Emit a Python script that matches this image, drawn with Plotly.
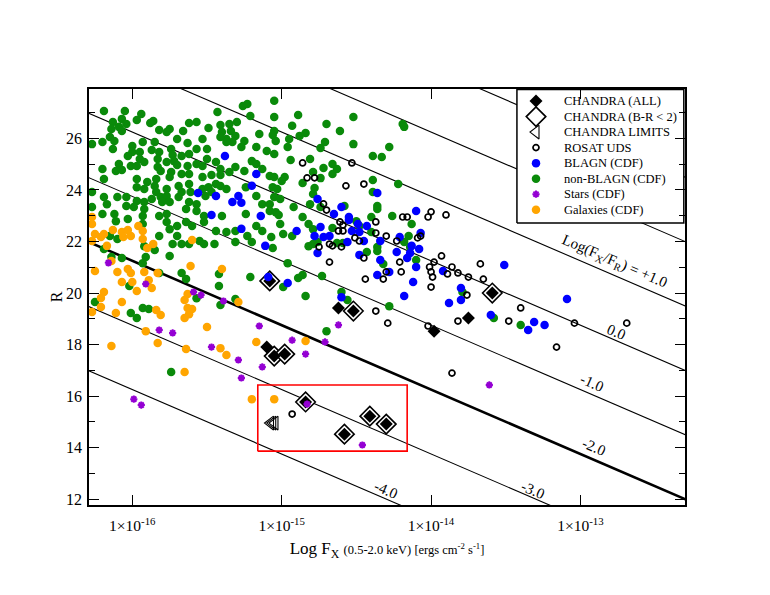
import plotly.graph_objects as go

# ---------------- data: (log10 Fx [0.5-2 keV], R mag) ----------------
chandra_all = [(-15.08, 20.47), (-14.62, 19.42), (-14.52, 19.30), (-13.98, 18.52),
               (-13.75, 19.03), (-13.59, 20.00), (-15.10, 17.90), (-15.05, 17.55),
               (-14.98, 17.63), (-14.84, 15.77), (-14.58, 14.52), (-14.41, 15.22),
               (-14.30, 14.91)]
chandra_br2 = [(-15.08, 20.47), (-14.52, 19.30), (-13.59, 20.00), (-15.05, 17.55),
               (-14.98, 17.63), (-14.84, 15.77), (-14.58, 14.52), (-14.41, 15.22),
               (-14.30, 14.91)]
chandra_lim = [(-15.075, 14.95), (-15.06, 14.95), (-15.045, 14.95)]

rosat_uds = [(-14.86, 25.05), (-14.53, 25.05), (-14.83, 24.47), (-14.78, 24.47), (-14.57, 24.16),
             (-14.45, 24.23), (-14.72, 23.46), (-14.70, 23.22), (-14.61, 22.76), (-14.59, 22.64),
             (-14.62, 22.41), (-14.59, 22.41), (-14.37, 22.76), (-14.37, 22.33), (-14.30, 22.21),
             (-14.19, 22.95), (-14.16, 22.95), (-14.00, 23.15), (-14.02, 22.95), (-13.90, 23.03),
             (-14.09, 22.14), (-14.07, 22.21), (-14.51, 22.14), (-14.48, 22.02), (-14.66, 21.83),
             (-14.60, 21.79), (-14.23, 22.02), (-14.68, 21.20), (-14.45, 21.36), (-14.44, 20.54),
             (-14.32, 20.54), (-14.30, 20.82), (-14.20, 20.82), (-14.21, 21.20), (-14.01, 21.01),
             (-14.00, 20.82), (-13.99, 20.62), (-14.00, 20.23), (-13.98, 21.20), (-13.93, 21.44),
             (-13.86, 21.01), (-13.89, 20.74), (-13.82, 20.78), (-14.37, 19.30), (-14.29, 18.83),
             (-14.02, 18.72), (-13.86, 16.89), (-13.82, 18.91), (-14.93, 15.30), (-14.68, 21.90),
             (-14.75, 21.79), (-13.75, 20.62), (-13.67, 21.13), (-13.65, 20.54), (-13.76, 19.92),
             (-13.40, 19.42), (-13.48, 18.91), (-13.04, 18.83), (-13.16, 17.90), (-12.69, 18.83)]

blagn = [(-15.38, 25.32), (-15.56, 23.88), (-15.44, 23.77), (-15.33, 23.53), (-15.29, 23.77),
         (-15.27, 23.50), (-15.17, 24.62), (-15.20, 24.16), (-15.14, 22.99), (-15.47, 23.03),
         (-15.27, 22.49), (-15.11, 21.83), (-15.09, 20.62), (-14.76, 23.65), (-14.36, 23.88),
         (-14.60, 23.34), (-14.65, 23.07), (-14.55, 22.95), (-14.55, 22.83), (-14.43, 22.60),
         (-14.49, 22.68), (-14.74, 22.56), (-14.90, 22.41), (-14.78, 22.21), (-14.72, 22.17),
         (-14.68, 22.21), (-14.53, 22.41), (-14.48, 22.37), (-14.45, 22.02), (-14.56, 21.98),
         (-14.34, 22.02), (-14.21, 22.17), (-14.10, 23.18), (-14.07, 22.33), (-14.13, 21.83),
         (-14.48, 21.48), (-14.23, 21.59), (-14.34, 21.28), (-14.36, 20.70), (-14.28, 20.82),
         (-14.16, 21.36), (-14.14, 21.55), (-14.10, 21.01), (-14.08, 21.71), (-14.12, 20.43),
         (-14.18, 19.88), (-13.92, 20.85), (-13.88, 19.61), (-14.96, 20.39), (-14.60, 19.84),
         (-14.76, 21.55), (-13.51, 21.09), (-13.80, 20.19), (-13.80, 19.73), (-13.60, 19.15),
         (-13.31, 18.87), (-13.24, 18.76), (-13.35, 18.56), (-13.09, 19.77)]

nonblagn = [(-16.19, 27.07), (-16.05, 27.07), (-15.94, 26.95), (-16.07, 26.76), (-16.13, 26.64),
            (-16.14, 26.37), (-16.09, 26.45), (-16.04, 26.56), (-16.07, 26.29), (-15.97, 26.72),
            (-15.86, 26.68), (-15.88, 26.60), (-15.82, 26.33), (-15.75, 26.37), (-15.77, 26.25),
            (-15.66, 26.29), (-15.62, 26.60), (-15.57, 26.64), (-15.43, 27.03), (-15.26, 27.26),
            (-15.23, 27.34), (-15.05, 27.46), (-15.21, 26.87), (-15.05, 26.83), (-15.49, 26.41),
            (-15.41, 26.52), (-15.35, 26.56), (-15.30, 26.64), (-15.34, 26.29), (-15.40, 26.25),
            (-15.37, 25.98), (-15.41, 26.06), (-15.31, 26.10), (-15.33, 25.86), (-15.37, 25.86),
            (-15.25, 25.90), (-15.15, 26.17), (-15.05, 26.29), (-15.04, 25.90), (-15.17, 25.67),
            (-15.10, 25.51), (-15.05, 25.40), (-15.27, 25.67), (-16.15, 26.06), (-16.12, 25.90),
            (-16.20, 25.86), (-16.27, 25.78), (-16.13, 25.59), (-16.00, 25.71), (-15.93, 25.86),
            (-15.85, 25.86), (-15.70, 25.98), (-15.63, 25.82), (-15.57, 25.59), (-15.50, 25.59),
            (-15.53, 25.98), (-16.00, 25.47), (-16.03, 25.32), (-15.95, 25.47), (-15.87, 25.55),
            (-15.82, 25.47), (-15.74, 25.59), (-15.73, 25.36), (-15.67, 25.32), (-15.62, 25.40),
            (-15.95, 25.20), (-15.92, 25.09), (-15.83, 25.20), (-15.77, 25.09), (-15.72, 25.12),
            (-15.70, 24.97), (-15.63, 24.93), (-15.57, 25.01), (-15.50, 25.20), (-15.44, 25.09),
            (-15.41, 24.81), (-15.53, 24.93), (-16.09, 25.01), (-16.01, 24.93), (-15.97, 24.93),
            (-16.20, 24.81), (-16.11, 24.74), (-16.07, 24.78), (-15.83, 24.89), (-15.81, 24.74),
            (-15.74, 24.70), (-15.67, 24.62), (-15.62, 24.62), (-15.53, 24.50), (-15.47, 24.58),
            (-15.41, 24.58), (-15.35, 24.70), (-15.31, 24.89), (-15.25, 24.74), (-15.20, 25.12),
            (-15.17, 25.01), (-15.13, 24.81), (-15.08, 24.54), (-15.05, 24.50), (-16.19, 24.43),
            (-15.97, 24.43), (-15.90, 24.31), (-15.84, 24.43), (-15.75, 24.50), (-15.97, 24.11),
            (-15.92, 24.04), (-15.85, 24.15), (-15.84, 23.92), (-15.77, 24.04), (-15.69, 24.15),
            (-15.62, 24.23), (-15.67, 23.92), (-15.61, 23.92), (-15.53, 24.04), (-15.49, 24.11),
            (-15.44, 24.23), (-15.37, 24.04), (-15.51, 23.77), (-15.47, 23.92), (-15.41, 24.15),
            (-15.24, 24.11), (-15.17, 23.77), (-15.13, 23.45), (-15.08, 23.45), (-15.05, 23.73),
            (-16.27, 23.92), (-16.19, 23.73), (-16.10, 23.73), (-16.04, 23.73), (-15.97, 23.57),
            (-15.92, 23.53), (-15.87, 23.65), (-15.81, 23.73), (-15.77, 23.77), (-15.80, 23.53),
            (-15.75, 23.53), (-15.69, 23.73), (-15.62, 23.53), (-15.57, 23.45), (-15.64, 23.26),
            (-16.17, 23.45), (-16.20, 23.07), (-16.12, 23.07), (-16.04, 23.38), (-15.99, 23.34),
            (-15.92, 23.26), (-15.93, 22.99), (-15.82, 22.99), (-15.77, 23.07), (-15.57, 23.18),
            (-15.52, 22.99), (-15.40, 22.99), (-15.24, 23.07), (-15.08, 23.18), (-15.04, 23.14),
            (-16.27, 23.34), (-16.11, 22.79), (-16.03, 22.87), (-15.93, 22.68), (-15.77, 22.76),
            (-15.70, 22.60), (-15.64, 22.76), (-15.60, 22.60), (-15.52, 22.76), (-15.44, 22.41),
            (-15.31, 22.41), (-15.37, 22.37), (-15.17, 22.60), (-15.13, 22.41), (-15.07, 22.17),
            (-15.23, 22.21), (-15.75, 22.48), (-15.70, 22.21), (-15.73, 21.90), (-15.67, 21.90),
            (-15.62, 21.90), (-15.55, 22.02), (-15.52, 21.90), (-15.45, 21.90), (-15.31, 21.98),
            (-15.20, 21.98), (-15.82, 22.21), (-16.10, 22.10), (-16.15, 22.21), (-15.92, 21.82),
            (-15.85, 21.67), (-15.06, 21.75), (-16.19, 21.71), (-16.14, 21.40), (-16.07, 21.36),
            (-15.91, 21.40), (-15.93, 21.16), (-15.75, 21.44), (-15.82, 20.78), (-15.67, 20.78),
            (-15.64, 20.54), (-15.42, 20.74), (-15.42, 20.27), (-15.21, 20.62), (-16.02, 20.27),
            (-16.25, 19.65), (-15.93, 19.42), (-15.89, 19.38), (-16.01, 19.22), (-15.97, 19.03),
            (-15.57, 19.80), (-15.41, 19.53), (-15.31, 19.77), (-15.74, 16.93),
            (-14.89, 26.91), (-14.93, 26.49), (-14.70, 26.56), (-14.52, 26.83), (-14.61, 26.29),
            (-14.19, 26.56), (-14.18, 26.45), (-15.06, 26.13), (-14.88, 26.10), (-14.84, 26.21),
            (-14.95, 25.98), (-14.71, 25.86), (-14.74, 25.63), (-14.96, 25.67), (-14.52, 25.78),
            (-14.28, 25.67), (-14.94, 25.16), (-14.81, 25.20), (-14.72, 24.85), (-14.66, 25.01),
            (-14.63, 24.81), (-14.66, 24.62), (-14.39, 25.32), (-14.33, 25.28), (-14.98, 24.50),
            (-15.00, 24.35), (-15.06, 24.11), (-15.03, 24.04), (-14.86, 24.27), (-14.79, 24.70),
            (-14.74, 24.46), (-14.78, 24.08), (-14.79, 23.84), (-14.39, 24.39), (-14.22, 24.23),
            (-14.39, 23.92), (-15.01, 23.65), (-14.81, 23.45), (-14.74, 23.34), (-14.92, 23.34),
            (-15.02, 23.03), (-14.86, 22.95), (-15.01, 22.68), (-14.99, 22.29), (-14.93, 22.21),
            (-14.82, 22.68), (-14.79, 22.48), (-14.66, 22.52), (-14.58, 23.38), (-14.36, 23.38),
            (-14.36, 23.26), (-14.40, 22.95), (-14.26, 22.99), (-14.50, 22.79), (-14.48, 22.60),
            (-14.40, 22.37), (-14.13, 22.68), (-14.15, 22.21), (-14.18, 21.98), (-14.82, 21.82),
            (-14.76, 21.98), (-14.63, 21.94), (-14.59, 21.94), (-14.36, 21.79), (-14.79, 21.90),
            (-14.36, 21.63), (-14.43, 21.59), (-14.14, 21.79), (-14.10, 21.28), (-14.32, 21.13),
            (-14.96, 21.16), (-14.89, 20.58), (-14.86, 20.70), (-14.73, 20.66), (-14.99, 20.23),
            (-14.84, 19.88), (-14.60, 20.04), (-14.56, 19.73), (-14.28, 19.49), (-14.70, 18.52),
            (-13.79, 20.04), (-13.58, 19.03), (-13.40, 18.76)]

stars = [(-16.16, 21.17), (-15.91, 20.35), (-15.59, 20.04), (-15.54, 19.92), (-15.39, 19.69),
         (-15.82, 18.56), (-15.73, 18.45), (-15.47, 17.90), (-15.15, 18.72), (-15.29, 17.40),
         (-15.13, 17.13), (-15.27, 16.70), (-15.99, 15.88), (-15.94, 15.65), (-14.62, 18.76),
         (-14.93, 18.17), (-14.71, 18.10), (-14.84, 17.63), (-14.83, 15.69), (-14.46, 14.10),
         (-13.61, 16.43)]

galaxies = [(-16.27, 22.95), (-16.27, 22.68), (-16.25, 22.29), (-16.21, 22.17), (-16.19, 22.29),
            (-16.13, 22.45), (-16.07, 22.37), (-16.03, 22.45), (-16.06, 22.17), (-16.01, 22.21),
            (-15.96, 22.60), (-15.93, 22.41), (-15.93, 22.10), (-15.86, 21.90), (-15.90, 21.75),
            (-15.60, 22.06), (-16.17, 21.83), (-16.27, 22.02), (-16.14, 21.24), (-16.25, 20.85),
            (-16.10, 20.82), (-16.03, 20.93), (-16.01, 20.78), (-16.07, 20.43), (-16.00, 20.43),
            (-15.97, 20.08), (-15.92, 20.82), (-15.89, 20.50), (-15.87, 20.19), (-15.83, 20.78),
            (-15.61, 21.05), (-15.40, 20.93), (-16.19, 20.04), (-16.21, 19.81), (-16.21, 19.46),
            (-16.07, 19.65), (-16.27, 19.26), (-16.11, 19.22), (-15.84, 19.34), (-15.81, 19.15),
            (-15.63, 19.96), (-15.65, 19.73), (-15.63, 19.42), (-15.60, 19.38), (-15.62, 19.18),
            (-15.65, 19.03), (-15.29, 19.65), (-15.91, 18.52), (-15.83, 18.06), (-16.14, 17.94),
            (-15.50, 18.68), (-15.64, 17.83), (-15.41, 17.86), (-15.37, 17.59), (-15.65, 16.93),
            (-15.17, 18.10), (-15.20, 15.88), (-15.05, 15.88), (-14.84, 18.14)]

# Log(Fx/FR) = log Fx + R/2.5 + 5.5 reference lines
ratio_levels = [-4, -3, -2, -1, 0, 1, 2, 3, 4]
ratio_labels = ["-4.0", "-3.0", "-2.0", "-1.0", "0.0", "Log(F<sub>X</sub>/F<sub>R</sub>) = +1.0"]
ratio_label_pos = [(-14.30, 12.35), (-13.32, 12.35), (-12.91, 14.02), (-12.92, 16.50),
                   (-12.76, 18.49), (-12.77, 21.20)]

box_logfx = [-15.16, -14.16]
box_r = [13.86, 16.43]

x_ticks = [-16, -15, -14, -13]
y_ticks = [12, 14, 16, 18, 20, 22, 24, 26]

legend_names = ["CHANDRA (ALL)", "CHANDRA (B-R < 2)", "CHANDRA LIMITS", "ROSAT UDS",
                "BLAGN (CDF)", "non-BLAGN (CDF)", "Stars (CDF)", "Galaxies (CDF)"]

XRANGE = [-16.29, -12.30]
YRANGE = [11.77, 27.92]
FONT = "Liberation Serif"

# marker styles (shared by the plot and the hand-made legend)
STY = {
    "CHANDRA (ALL)": dict(symbol="diamond", size=10, color="black", line=dict(width=0)),
    "CHANDRA (B-R < 2)": dict(symbol="diamond", size=15, color="white",
                              line=dict(color="black", width=1.6)),
    "CHANDRA LIMITS": dict(symbol="triangle-left-open", size=12, color="black",
                           line=dict(color="black", width=1.1)),
    "ROSAT UDS": dict(symbol="circle-open", size=6, color="black",
                      line=dict(color="black", width=1.7)),
    "BLAGN (CDF)": dict(symbol="circle", size=8.5, color="#0000ff", line=dict(width=0)),
    "non-BLAGN (CDF)": dict(symbol="circle", size=8.5, color="#0a8a0a", line=dict(width=0)),
    "Stars (CDF)": dict(symbol="asterisk-open", size=6, color="#9400d3",
                        line=dict(color="#9400d3", width=2)),
    "Galaxies (CDF)": dict(symbol="circle", size=8.5, color="#ffa500", line=dict(width=0)),
}


def fx(pts):
    return [10 ** p[0] for p in pts]


def rr(pts):
    return [p[1] for p in pts]


fig = go.Figure()

# reference lines of constant X-ray to optical flux ratio
for c in ratio_levels:
    lx = [XRANGE[0] - 0.1, XRANGE[1] + 0.1]
    ly = [(c - 5.5 - v) * 2.5 for v in lx]
    fig.add_trace(go.Scatter(x=[10 ** v for v in lx], y=ly, mode="lines",
                             line=dict(color="black", width=2.6 if c == -2 else 1.1),
                             showlegend=False, hoverinfo="skip"))

# red box
bx = [10 ** box_logfx[0], 10 ** box_logfx[1], 10 ** box_logfx[1], 10 ** box_logfx[0], 10 ** box_logfx[0]]
by = [box_r[0], box_r[0], box_r[1], box_r[1], box_r[0]]
fig.add_trace(go.Scatter(x=bx, y=by, mode="lines", line=dict(color="#ff0000", width=1.6),
                         showlegend=False, hoverinfo="skip"))

series = [("CHANDRA (B-R < 2)", chandra_br2), ("CHANDRA (ALL)", chandra_all),
          ("CHANDRA LIMITS", chandra_lim), ("non-BLAGN (CDF)", nonblagn),
          ("BLAGN (CDF)", blagn), ("Galaxies (CDF)", galaxies),
          ("ROSAT UDS", rosat_uds), ("Stars (CDF)", stars)]
for name, pts in series:
    fig.add_trace(go.Scatter(x=fx(pts), y=rr(pts), mode="markers", name=name,
                             marker=STY[name], showlegend=False))

# ---- hand-made legend on an overlay axis spanning the plot area (0..1) ----
LG_X0, LG_X1, LG_Y0, LG_Y1 = 0.718, 0.998, 0.678, 0.999
LG_SYM_X, LG_TXT_X = 0.750, 0.793
LG_ROW_TOP, LG_ROW_STEP = 0.971, 0.0373
fig.add_trace(go.Scatter(x=[LG_X0, LG_X1, LG_X1, LG_X0, LG_X0], y=[LG_Y0, LG_Y0, LG_Y1, LG_Y1, LG_Y0],
                         xaxis="x2", yaxis="y2", mode="lines", fill="toself", fillcolor="white",
                         line=dict(color="black", width=1.5), showlegend=False, hoverinfo="skip"))
annotations = []
for i, name in enumerate(legend_names):
    yy = LG_ROW_TOP - i * LG_ROW_STEP
    fig.add_trace(go.Scatter(x=[LG_SYM_X], y=[yy], xaxis="x2", yaxis="y2", mode="markers",
                             marker=STY[name], showlegend=False, hoverinfo="skip"))
    annotations.append(dict(x=LG_TXT_X, y=yy, xref="paper", yref="paper", text=name,
                            showarrow=False, xanchor="left", yanchor="middle",
                            font=dict(family=FONT, size=12.5, color="black")))

for txt, (lx, ly) in zip(ratio_labels, ratio_label_pos):
    annotations.append(dict(x=lx, y=ly, xref="x", yref="y", text=txt, showarrow=False,
                            textangle=23.3, font=dict(family=FONT, size=15, color="black")))

# y-axis title placed a little closer to the tick labels than plotly's standoff allows
annotations.append(dict(x=-0.055, y=0.5, xref="paper", yref="paper", text="R",
                        showarrow=False, textangle=-90, xanchor="center", yanchor="middle",
                        font=dict(family=FONT, size=16, color="black")))

fig.update_layout(
    width=754, height=579,
    margin=dict(l=81, r=77, t=81, b=82),
    paper_bgcolor="white", plot_bgcolor="white",
    font=dict(family=FONT, size=15, color="black"),
    annotations=annotations,
    showlegend=False,
    xaxis=dict(type="log", range=XRANGE, showgrid=False, zeroline=False,
               showline=True, linecolor="black", linewidth=1.6, mirror="allticks",
               ticks="inside", ticklen=10, tickwidth=1.3, tickcolor="black",
               tickvals=[10 ** v for v in x_ticks],
               ticktext=["1×10<sup>%d</sup>" % v for v in x_ticks],
               tickfont=dict(family=FONT, size=15.5), ticklabelstandoff=6,
               title=dict(text="Log F<sub>X</sub> <span style='font-size:12.5px'>(0.5-2.0 keV) [ergs cm<sup>-2</sup> s<sup>-1</sup>]</span>",
                          font=dict(family=FONT, size=17), standoff=9)),
    yaxis=dict(range=YRANGE, showgrid=False, zeroline=False,
               showline=True, linecolor="black", linewidth=1.6, mirror="allticks",
               ticks="inside", ticklen=10, tickwidth=1.3, tickcolor="black",
               tickvals=y_ticks, tickfont=dict(family=FONT, size=16), ticklabelstandoff=2,
               minor=dict(dtick=1, tick0=11, ticks="inside", ticklen=6, tickwidth=1.1,
                          tickcolor="black", showgrid=False)),
    xaxis2=dict(overlaying="x", range=[0, 1], visible=False, fixedrange=True),
    yaxis2=dict(overlaying="y", range=[0, 1], visible=False, fixedrange=True),
)

fig.write_html("out.html")
